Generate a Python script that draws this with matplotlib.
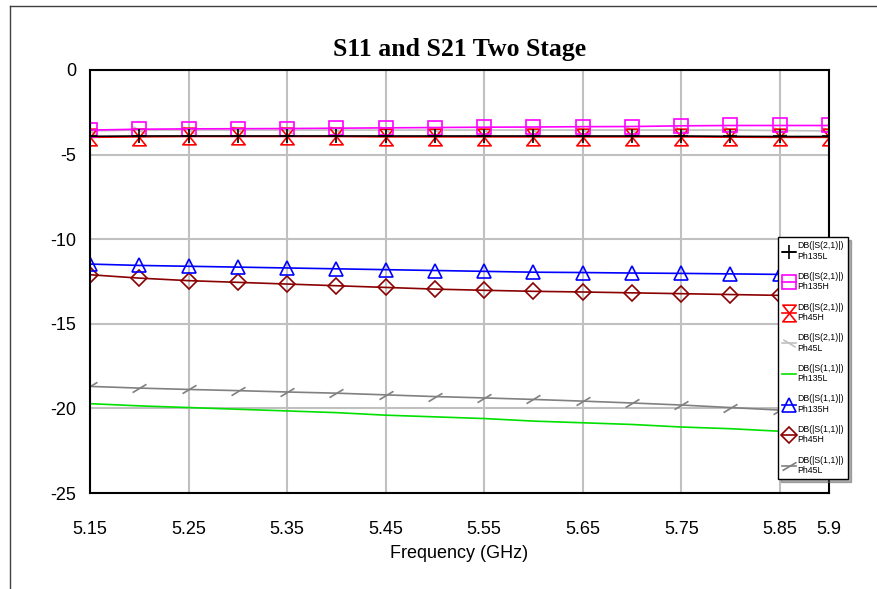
import numpy as np
import matplotlib.pyplot as plt
from matplotlib.path import Path
from matplotlib.lines import Line2D

freq = [5.15, 5.2, 5.25, 5.3, 5.35, 5.4, 5.45, 5.5,
        5.55, 5.6, 5.65, 5.7, 5.75, 5.8, 5.85, 5.9]

s21_ph135l = [-3.92, -3.9, -3.9, -3.9, -3.9, -3.9, -3.9, -3.9,
              -3.9, -3.9, -3.9, -3.9, -3.9, -3.92, -3.93, -3.93]
s21_ph135h = [-3.55, -3.5, -3.48, -3.47, -3.46, -3.44, -3.42, -3.4,
              -3.38, -3.37, -3.35, -3.34, -3.3, -3.28, -3.28, -3.28]
s21_ph45h = [-3.98, -3.95, -3.93, -3.93, -3.93, -3.93, -3.95, -3.95,
             -3.95, -3.95, -3.95, -3.95, -3.95, -3.97, -3.98, -3.98]
s21_ph45l = [-3.6, -3.55, -3.55, -3.55, -3.55, -3.55, -3.55, -3.55,
             -3.55, -3.55, -3.55, -3.55, -3.55, -3.55, -3.58, -3.6]
s11_ph135l = [-19.72, -19.85, -19.95, -20.05, -20.15, -20.25, -20.4, -20.5,
              -20.6, -20.75, -20.85, -20.95, -21.1, -21.2, -21.35, -21.5]
s11_ph135h = [-11.47, -11.55, -11.6, -11.65, -11.7, -11.75, -11.8, -11.85,
              -11.9, -11.95, -11.97, -12.0, -12.02, -12.05, -12.08, -12.1]
s11_ph45h = [-12.1, -12.3, -12.45, -12.55, -12.65, -12.75, -12.85, -12.95,
             -13.02, -13.08, -13.12, -13.17, -13.22, -13.27, -13.32, -13.35]
s11_ph45l = [-18.7, -18.8, -18.88, -18.95, -19.03, -19.1, -19.2, -19.3,
             -19.38, -19.47, -19.57, -19.68, -19.8, -19.95, -20.1, -20.3]

x_ticks = [5.15, 5.25, 5.35, 5.45, 5.55, 5.65, 5.75, 5.85, 5.9]
y_ticks = [0, -5, -10, -15, -20, -25]

bowtie = Path([(-0.8, 1), (0.8, 1), (-0.8, -1), (0.8, -1), (-0.8, 1)],
              [Path.MOVETO, Path.LINETO, Path.LINETO, Path.LINETO, Path.CLOSEPOLY])
slash = Path([(-1, -0.6), (1, 0.6)], [Path.MOVETO, Path.LINETO])
backslash = Path([(-1, 0.6), (1, -0.6)], [Path.MOVETO, Path.LINETO])

plt.rcParams['font.family'] = ['Liberation Sans', 'DejaVu Sans']
plt.rcParams['axes.unicode_minus'] = False

fig = plt.figure(figsize=(8.77, 5.89), dpi=100)
ax = fig.add_axes([90 / 877, 96 / 589, 739 / 877, 423 / 589])

series = [
    (s21_ph135l, 'black', '+', 10, 'DB(|S(2,1)|)\nPh135L'),
    (s21_ph135h, '#ff00ff', 's', 10, 'DB(|S(2,1)|)\nPh135H'),
    (s21_ph45h, 'red', bowtie, 12, 'DB(|S(2,1)|)\nPh45H'),
    (s21_ph45l, '#c0c0c0', backslash, 9, 'DB(|S(2,1)|)\nPh45L'),
    (s11_ph135l, '#00e000', None, 0, 'DB(|S(1,1)|)\nPh135L'),
    (s11_ph135h, 'blue', '^', 10, 'DB(|S(1,1)|)\nPh135H'),
    (s11_ph45h, '#8b0000', 'D', 8, 'DB(|S(1,1)|)\nPh45H'),
    (s11_ph45l, '#808080', slash, 10, 'DB(|S(1,1)|)\nPh45L'),
]

# draw in reverse so S21 Ph135L ends up on top
for vals, col, mk, ms, lab in reversed(series):
    ax.plot(freq, vals, color=col, lw=1.2, marker=mk, markersize=ms,
            markerfacecolor='none', markeredgecolor=col, markeredgewidth=1.2,
            label=lab)

ax.set_xlim(5.15, 5.9)
ax.set_ylim(-25, 0)
ax.set_xticks(x_ticks)
ax.set_xticklabels([f'{t:g}' for t in x_ticks])
ax.set_yticks(y_ticks)
ax.tick_params(length=0, labelsize=13)
ax.tick_params(axis='y', pad=10)
ax.tick_params(axis='x', pad=20)
ax.grid(True, color='#c0c0c0', lw=1.5)
for s in ax.spines.values():
    s.set_color('black')
    s.set_linewidth(1.5)
ax.set_xlabel('Frequency (GHz)', fontsize=13, labelpad=5)
ax.set_title('S11 and S21 Two Stage', fontsize=18.5, fontweight='bold',
             family='Liberation Serif', pad=10)

handles, labels = ax.get_legend_handles_labels()
leg = ax.legend(handles[::-1], labels[::-1], loc='upper left',
                bbox_to_anchor=(778 / 877, 1 - 237 / 589),
                bbox_transform=fig.transFigure, fontsize=6.3,
                handlelength=1.5, handletextpad=0.2, borderpad=0.5,
                labelspacing=1.28, fancybox=False, shadow={'color': '#606060'},
                framealpha=1, borderaxespad=0)
leg.get_frame().set_edgecolor('black')
leg.get_frame().set_linewidth(1.0)

fig.add_artist(Line2D([10 / 877, 10 / 877], [0, 1 - 6 / 589], color='#404040', lw=1))
fig.add_artist(Line2D([10 / 877, 1], [1 - 6 / 589, 1 - 6 / 589], color='#404040', lw=1))

fig.savefig('out.png', dpi=100)
